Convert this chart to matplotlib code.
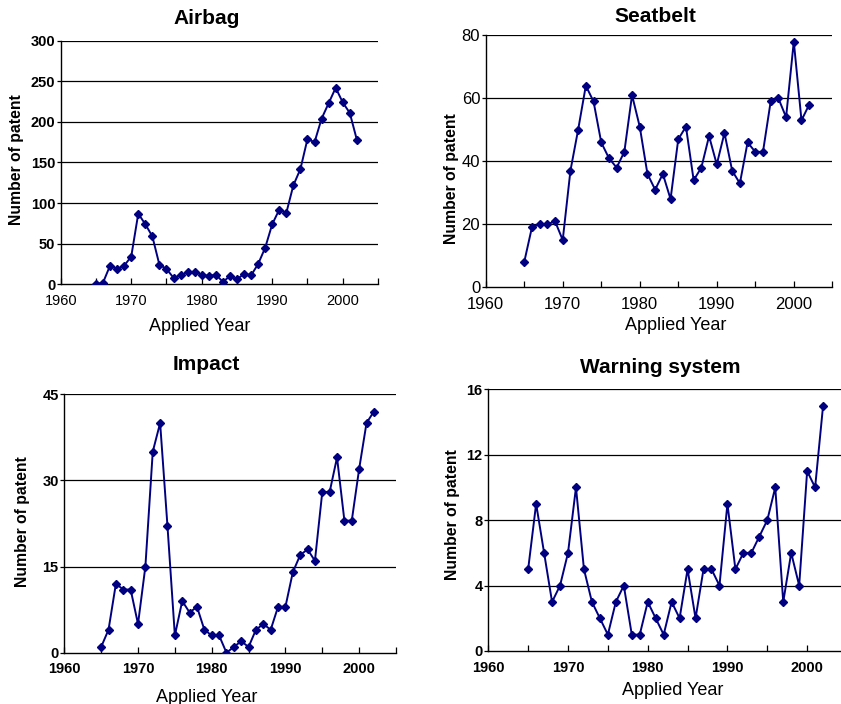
import matplotlib
matplotlib.use("Agg")
import matplotlib.pyplot as plt
from matplotlib.ticker import MultipleLocator

plt.rcParams['font.family'] = ['Liberation Sans', 'DejaVu Sans']

years = list(range(1965, 2003))

airbag = [0, 2, 23, 19, 23, 34, 87, 74, 59, 24, 19, 8, 11, 15, 15, 12, 10, 12, 3, 10,
          6, 13, 11, 25, 45, 74, 92, 88, 122, 142, 179, 175, 204, 223, 242, 224, 211, 178]
seatbelt = [8, 19, 20, 20, 21, 15, 37, 50, 64, 59, 46, 41, 38, 43, 61, 51, 36, 31, 36, 28,
            47, 51, 34, 38, 48, 39, 49, 37, 33, 46, 43, 43, 59, 60, 54, 78, 53, 58]
impact = [1, 4, 12, 11, 11, 5, 15, 35, 40, 22, 3, 9, 7, 8, 4, 3, 3, 0, 1, 2,
          1, 4, 5, 4, 8, 8, 14, 17, 18, 16, 28, 28, 34, 23, 23, 32, 40, 42]
warning = [5, 9, 6, 3, 4, 6, 10, 5, 3, 2, 1, 3, 4, 1, 1, 3, 2, 1, 3, 2,
           5, 2, 5, 5, 4, 9, 5, 6, 6, 7, 8, 10, 3, 6, 4, 11, 10, 15]

LINE = '#000080'
W, H = 841, 704

fig = plt.figure(figsize=(W / 100, H / 100), dpi=100)


def px_axes(left, top, right, bottom):
    # pixel box -> figure fractions
    return fig.add_axes([left / W, 1 - bottom / H, (right - left) / W, (bottom - top) / H])


def draw(ax, vals, ymax, ystep, tsize, yweight, xweight):
    for g in range(ystep, ymax + 1, ystep):
        ax.axhline(g, color='black', lw=0.9, zorder=1)
    ax.plot(years, vals, color=LINE, lw=1.4, marker='D', ms=4.5, zorder=3)
    ax.set_xlim(1960, 2005)
    ax.set_ylim(0, ymax)
    ax.xaxis.set_major_locator(MultipleLocator(10))
    ax.xaxis.set_minor_locator(MultipleLocator(5))
    ax.yaxis.set_major_locator(MultipleLocator(ystep))
    for s in ['top', 'right']:
        ax.spines[s].set_visible(False)
    ax.spines['left'].set_linewidth(1.0)
    ax.spines['bottom'].set_linewidth(1.0)
    ax.tick_params(axis='x', which='both', direction='in', length=4, width=0.9, pad=7,
                   labelsize=tsize)
    ax.tick_params(axis='y', direction='out', length=3, width=0.9, pad=1, labelsize=tsize)
    for t in ax.get_yticklabels():
        t.set_fontweight(yweight)
    for t in ax.get_xticklabels():
        t.set_fontweight(xweight)
    ax.set_facecolor('none')


ax1 = px_axes(60.7, 40.7, 378, 284.3)
draw(ax1, airbag, 300, 50, 10.5, 'bold', 'normal')
ax1.get_xticklabels()[0].set_fontweight('bold')

ax2 = px_axes(485.7, 35.3, 832.3, 287.3)
draw(ax2, seatbelt, 80, 20, 12, 'normal', 'normal')

ax3 = px_axes(64.3, 394.3, 396, 652.7)
draw(ax3, impact, 45, 15, 10.5, 'bold', 'bold')

ax4 = px_axes(488.3, 389.3, 847, 651)
draw(ax4, warning, 16, 4, 10.5, 'bold', 'bold')

# titles
fig.text(207 / W, 1 - 18 / H, 'Airbag', ha='center', va='center', fontsize=15, fontweight='bold')
fig.text(655 / W, 1 - 16 / H, 'Seatbelt', ha='center', va='center', fontsize=15, fontweight='bold')
fig.text(206 / W, 1 - 365 / H, 'Impact', ha='center', va='center', fontsize=15, fontweight='bold')
fig.text(660 / W, 1 - 367 / H, 'Warning system', ha='center', va='center', fontsize=15,
         fontweight='bold')

# y labels
for x, y in [(17, 160), (452, 179), (23, 522), (453, 515)]:
    fig.text(x / W, 1 - y / H, 'Number of patent', rotation=90, ha='center', va='center',
             fontsize=11.3, fontweight='bold')

# x labels
for x, y in [(200, 326.5), (676, 325), (207, 697), (673, 690.5)]:
    fig.text(x / W, 1 - y / H, 'Applied Year', ha='center', va='center', fontsize=13)

fig.savefig('out.png', dpi=100)
